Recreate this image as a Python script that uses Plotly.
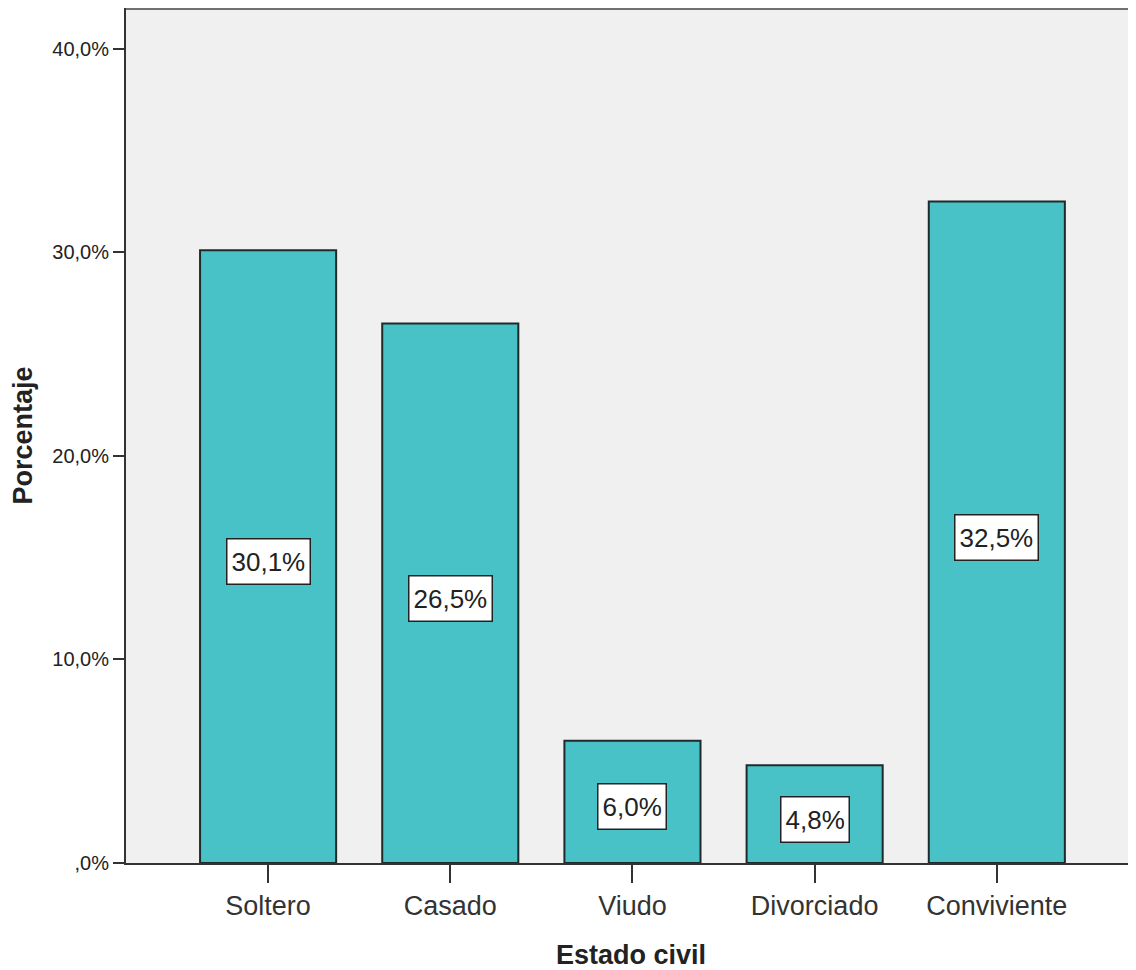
import plotly.graph_objects as go

categories = ["Soltero", "Casado", "Viudo", "Divorciado", "Conviviente"]
values = [30.1, 26.5, 6.0, 4.8, 32.5]
labels = ["30,1%", "26,5%", "6,0%", "4,8%", "32,5%"]
y_tickvals = [0, 10, 20, 30, 40]
y_ticktext = [",0%", "10,0%", "20,0%", "30,0%", "40,0%"]

FONT = "Liberation Sans, Arial, sans-serif"

fig = go.Figure()
fig.add_trace(go.Bar(
    x=list(range(len(categories))),
    y=values,
    width=0.747,
    marker=dict(color="#48C2C6", line=dict(color="#1f2a2a", width=2)),
    hoverinfo="skip",
))

for i, (v, t) in enumerate(zip(values, labels)):
    fig.add_annotation(
        x=i, y=v / 2, text=t, showarrow=False, yshift=-5,
        font=dict(family=FONT, size=26, color="#222"),
        bgcolor="white", bordercolor="#222", borderwidth=1.5, borderpad=4,
        height=36,
    )

fig.add_annotation(
    x=0, y=0.5, xref="paper", yref="paper", text="<b>Porcentaje</b>",
    textangle=-90, showarrow=False, xanchor="center", yanchor="middle",
    xshift=-104, yshift=0,
    font=dict(family=FONT, size=27, color="#222"),
)
fig.add_annotation(
    x=0.5, y=0, xref="paper", yref="paper", text="<b>Estado civil</b>",
    showarrow=False, xanchor="center", yanchor="middle", yshift=-92, xshift=0,
    font=dict(family=FONT, size=27, color="#222"),
)
# top frame line
fig.add_shape(type="line", xref="paper", yref="paper", x0=0, x1=1, y0=1, y1=1,
              line=dict(color="#707070", width=4))

fig.update_layout(
    width=1128, height=962,
    margin=dict(l=118, r=0, t=0, b=107),
    paper_bgcolor="white", plot_bgcolor="#F0F0F0",
    showlegend=False,
    font=dict(family=FONT, color="#222"),
    xaxis=dict(
        range=[-0.78, 4.764], tickvals=list(range(len(categories))),
        ticktext=categories, ticks="outside", ticklen=18, tickwidth=2,
        tickcolor="#333", showline=True, linecolor="#333", linewidth=2,
        showgrid=False, zeroline=False, tickfont=dict(size=27, color="#333"),
    ),
    yaxis=dict(
        range=[0, 42.0], tickvals=y_tickvals, ticktext=y_ticktext,
        ticks="outside", ticklen=11, tickwidth=2, tickcolor="#333",
        showline=True, linecolor="#333", linewidth=2, showgrid=False,
        zeroline=False, tickfont=dict(size=20, color="#222"),
    ),
)

fig.write_html("out.html")
